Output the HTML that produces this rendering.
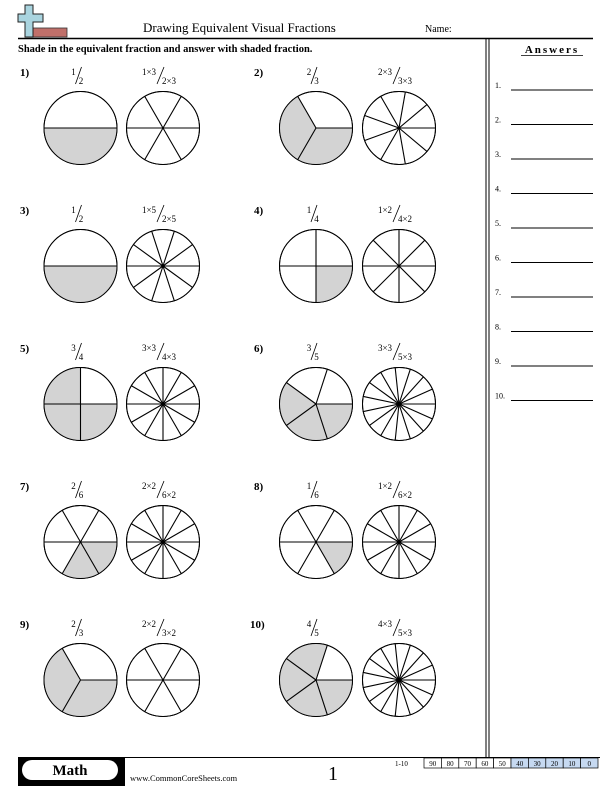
<!DOCTYPE html>
<html><head><meta charset="utf-8"><style>
html,body{margin:0;padding:0;background:#fff}
svg{display:block}
text{font-family:"Liberation Serif",serif;fill:#000}
</style></head><body>
<svg id="s" width="612" height="792" viewBox="0 0 612 792" xmlns="http://www.w3.org/2000/svg">
<rect x="30" y="28" width="37" height="9" fill="#c0706a" stroke="#333" stroke-width="0.8"/>
<path d="M25 5 h8 v9 h10 v8 h-10 v15 h-8 v-15 h-7 v-8 h7z" fill="#a9d4df" stroke="#222" stroke-width="1"/>
<text x="143" y="32" font-size="13">Drawing Equivalent Visual Fractions</text>
<text x="425" y="32" font-size="10">Name:</text>
<line x1="18" y1="38.5" x2="593" y2="38.5" stroke="#000" stroke-width="1.5"/>
<text x="18" y="52" font-size="10.5" font-weight="bold">Shade in the equivalent fraction and answer with shaded fraction.</text>
<line x1="486" y1="38" x2="486" y2="758" stroke="#000" stroke-width="1"/>
<line x1="489" y1="38" x2="489" y2="758" stroke="#000" stroke-width="1"/>
<text x="552" y="53" font-size="11" font-weight="bold" text-anchor="middle" letter-spacing="2">Answers</text>
<line x1="521" y1="55.5" x2="583" y2="55.5" stroke="#000" stroke-width="0.8"/>
<g id="ans" font-size="8"></g>
<g id="probs"></g>
<line x1="18" y1="757.5" x2="600" y2="757.5" stroke="#000" stroke-width="1"/>
<rect x="18" y="758" width="107" height="28" fill="#000"/>
<rect x="22" y="760" width="96" height="20" rx="10" fill="#fff"/>
<text x="70" y="775" font-size="15" font-weight="bold" text-anchor="middle">Math</text>
<text x="130" y="781" font-size="8.5">www.CommonCoreSheets.com</text>
<text x="328" y="780" font-size="20">1</text>
<text x="395" y="766" font-size="7">1-10</text>
<g id="score"></g>
</svg>
<script>
const NS="http://www.w3.org/2000/svg";
function el(p,t,a,txt){const e=document.createElementNS(NS,t);for(const k in a)e.setAttribute(k,a[k]);if(txt!=null)e.textContent=txt;p.appendChild(e);return e;}
const probs=document.getElementById('probs');
const ans=document.getElementById('ans');
const ansY=[90,124.5,159,193.5,228,262.5,297,331.5,366,400.5];
ansY.forEach((y,i)=>{el(ans,'text',{x:495,y:y-2,'font-size':8},(i+1)+'.');el(ans,'line',{x1:511,y1:y,x2:593,y2:y,stroke:'#000','stroke-width':1});});
const sc=document.getElementById('score');
const vals=[90,80,70,60,50,40,30,20,10,0];
vals.forEach((v,i)=>{const x=424+i*17.4;el(sc,'rect',{x:x,y:758,width:17.4,height:10,fill:i>=5?'#c6d9f1':'#fff',stroke:'#000','stroke-width':0.7});el(sc,'text',{x:x+8.7,y:766,'font-size':7,'text-anchor':'middle'},String(v));});
function pt(cx,cy,r,a){const t=a*Math.PI/180;return [cx+r*Math.cos(t),cy-r*Math.sin(t)];}
function circle(cx,cy,n,shaded){const r=36.5;
 el(probs,'circle',{cx:cx,cy:cy,r:r,fill:'#fff',stroke:'#000','stroke-width':1});
 const step=360/n;
 shaded.forEach(k=>{const a0=k*step,a1=(k+1)*step;const p0=pt(cx,cy,r,a0),p1=pt(cx,cy,r,a1);
  el(probs,'path',{d:`M${cx} ${cy} L${p0[0]} ${p0[1]} A${r} ${r} 0 0 0 ${p1[0]} ${p1[1]} Z`,fill:'#d3d3d3',stroke:'none'});});
 el(probs,'circle',{cx:cx,cy:cy,r:r,fill:'none',stroke:'#000','stroke-width':1});
 for(let k=0;k<n;k++){const p=pt(cx,cy,r,k*step);el(probs,'line',{x1:cx,y1:cy,x2:p[0],y2:p[1],stroke:'#000','stroke-width':1.1});}
}
function frac(cx,cy,num,den){
 if(num.length>1){
  el(probs,'text',{x:cx-14,y:cy-53,'font-size':9,'text-anchor':'middle'},num);
  el(probs,'line',{x1:cx-6,y1:cy-44,x2:cx+1,y2:cy-61,stroke:'#000','stroke-width':0.8});
  el(probs,'text',{x:cx+6,y:cy-44,'font-size':9,'text-anchor':'middle'},den);
 } else {
  el(probs,'text',{x:cx-7,y:cy-53,'font-size':9,'text-anchor':'middle'},num);
  el(probs,'line',{x1:cx-5,y1:cy-44,x2:cx+1,y2:cy-61,stroke:'#000','stroke-width':0.8});
  el(probs,'text',{x:cx+0.5,y:cy-44,'font-size':9,'text-anchor':'middle'},den);
 }
}
const P=[
 [1,'1','2','1×3','2×3',2,[1],6],
 [2,'2','3','2×3','3×3',3,[1,2],9],
 [3,'1','2','1×5','2×5',2,[1],10],
 [4,'1','4','1×2','4×2',4,[3],8],
 [5,'3','4','3×3','4×3',4,[1,2,3],12],
 [6,'3','5','3×3','5×3',5,[2,3,4],15],
 [7,'2','6','2×2','6×2',6,[4,5],12],
 [8,'1','6','1×2','6×2',6,[5],12],
 [9,'2','3','2×2','3×2',3,[1,2],6],
 [10,'4','5','4×3','5×3',5,[1,2,3,4],15]
];
P.forEach((p,i)=>{const row=Math.floor(i/2),col=i%2;
 const cy=128+row*138; const x1=col?316:80.5, x2=col?399:163;
 const lx=col?(p[0]==10?250:254):20;
 el(probs,'text',{x:lx,y:cy-52,'font-size':11,'font-weight':'bold'},p[0]+')');
 frac(x1,cy,p[1],p[2]); frac(x2,cy,p[3],p[4]);
 circle(x1,cy,p[5],p[6]); circle(x2,cy,p[7],[]);
});
</script>
</body></html>
